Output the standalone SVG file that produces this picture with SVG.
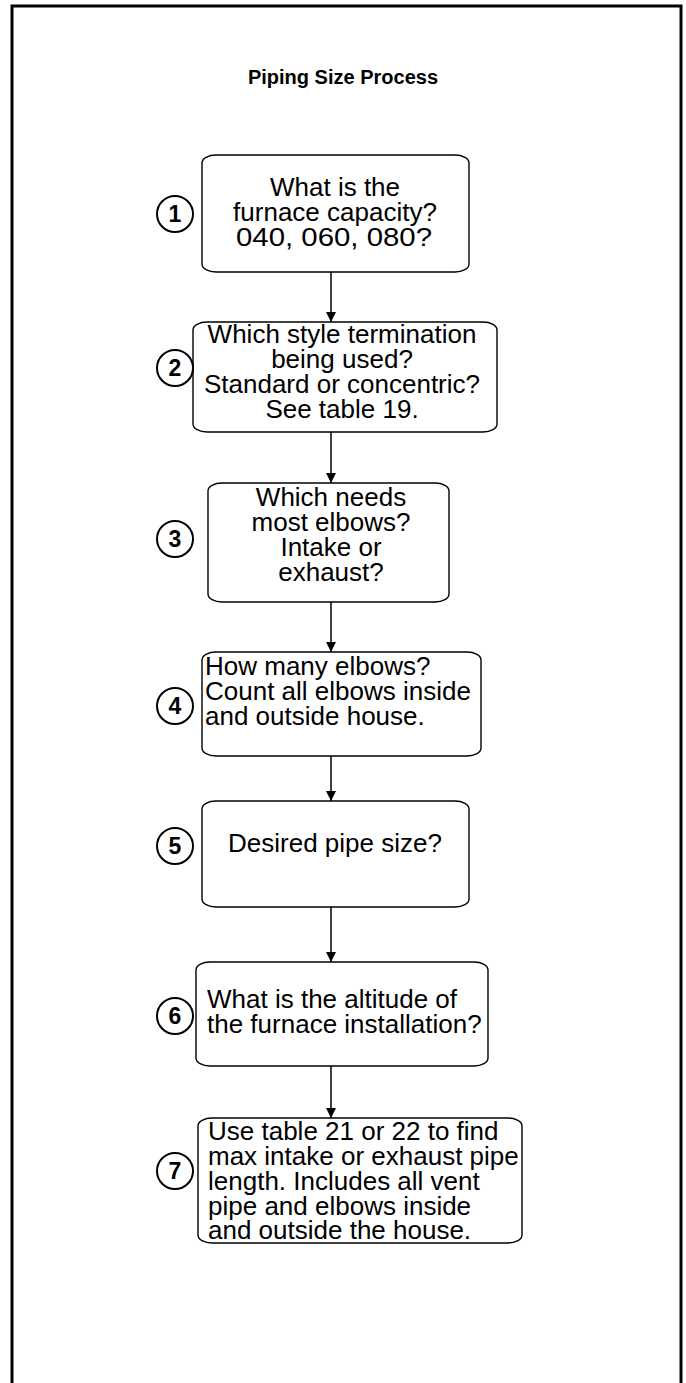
<svg xmlns="http://www.w3.org/2000/svg" width="686" height="1383" viewBox="0 0 686 1383">
<style>
.box{fill:#fff;stroke:#000;stroke-width:1.4}
.t{font-family:"Liberation Sans",Arial,sans-serif;font-size:26px;fill:#000}
.c{text-anchor:middle}
.num{font-family:"Liberation Sans",Arial,sans-serif;font-size:23px;font-weight:bold;text-anchor:middle;fill:#000}
.circ{fill:#fff;stroke:#000;stroke-width:2}
.conn{stroke:#000;stroke-width:1.5;fill:none}
</style>
<defs>
<marker id="ah" viewBox="0 0 10 10" refX="10" refY="5" markerWidth="10" markerHeight="10" markerUnits="userSpaceOnUse" orient="auto">
<path d="M0,0 L10,5 L0,10 Z" fill="#000"/>
</marker>
</defs>
<rect width="686" height="1383" fill="#fff"/>
<path d="M12,1383 L12,6 L681,6 L681,1383" fill="none" stroke="#000" stroke-width="3"/>
<text x="343" y="84" font-family="Liberation Sans,Arial,sans-serif" font-size="20" font-weight="bold" text-anchor="middle">Piping Size Process</text>

<g id="connectors">
<line class="conn" x1="331" y1="272" x2="331" y2="322" marker-end="url(#ah)"/>
<line class="conn" x1="331" y1="432" x2="331" y2="483" marker-end="url(#ah)"/>
<line class="conn" x1="331" y1="602" x2="331" y2="652" marker-end="url(#ah)"/>
<line class="conn" x1="331" y1="756" x2="331" y2="801" marker-end="url(#ah)"/>
<line class="conn" x1="331" y1="907" x2="331" y2="962" marker-end="url(#ah)"/>
<line class="conn" x1="331" y1="1066" x2="331" y2="1118" marker-end="url(#ah)"/>
</g>

<g id="node1">
<rect class="box" x="202" y="155" width="267" height="117" rx="14" ry="8"/>
<text class="t c" x="335" y="196">What is the</text>
<text class="t c" x="335" y="221">furnace capacity?</text>
<text class="t c" x="334" y="246" textLength="196" lengthAdjust="spacingAndGlyphs">040, 060, 080?</text>
<circle class="circ" cx="175" cy="214" r="18"/>
<text class="num" x="175" y="222">1</text>
</g>

<g id="node2">
<rect class="box" x="193" y="322" width="304" height="110" rx="14" ry="8"/>
<text class="t c" x="342" y="343">Which style termination</text>
<text class="t c" x="342" y="368">being used?</text>
<text class="t c" x="342" y="393">Standard or concentric?</text>
<text class="t c" x="342" y="418">See table 19.</text>
<circle class="circ" cx="175" cy="368" r="18"/>
<text class="num" x="175" y="376">2</text>
</g>

<g id="node3">
<rect class="box" x="208" y="483" width="241" height="119" rx="14" ry="8"/>
<text class="t c" x="331" y="506">Which needs</text>
<text class="t c" x="331" y="531">most elbows?</text>
<text class="t c" x="331" y="556">Intake or</text>
<text class="t c" x="331" y="581">exhaust?</text>
<circle class="circ" cx="175" cy="539" r="18"/>
<text class="num" x="175" y="547">3</text>
</g>

<g id="node4">
<rect class="box" x="202" y="652" width="279" height="104" rx="14" ry="8"/>
<text class="t" x="205" y="675">How many elbows?</text>
<text class="t" x="205" y="700">Count all elbows inside</text>
<text class="t" x="205" y="725">and outside house.</text>
<circle class="circ" cx="175" cy="706" r="18"/>
<text class="num" x="175" y="714">4</text>
</g>

<g id="node5">
<rect class="box" x="202" y="801" width="267" height="106" rx="14" ry="8"/>
<text class="t c" x="335" y="852">Desired pipe size?</text>
<circle class="circ" cx="175" cy="846" r="18"/>
<text class="num" x="175" y="854">5</text>
</g>

<g id="node6">
<rect class="box" x="196" y="962" width="292" height="104" rx="14" ry="8"/>
<text class="t" x="207" y="1008">What is the altitude of</text>
<text class="t" x="207" y="1033">the furnace installation?</text>
<circle class="circ" cx="175" cy="1016" r="18"/>
<text class="num" x="175" y="1024">6</text>
</g>

<g id="node7">
<rect class="box" x="198" y="1118" width="324" height="125" rx="14" ry="8"/>
<text class="t" x="208" y="1140">Use table 21 or 22 to find</text>
<text class="t" x="208" y="1165">max intake or exhaust pipe</text>
<text class="t" x="208" y="1190">length. Includes all vent</text>
<text class="t" x="208" y="1215">pipe and elbows inside</text>
<text class="t" x="208" y="1239">and outside the house.</text>
<circle class="circ" cx="175" cy="1171" r="18"/>
<text class="num" x="175" y="1179">7</text>
</g>
</svg>
